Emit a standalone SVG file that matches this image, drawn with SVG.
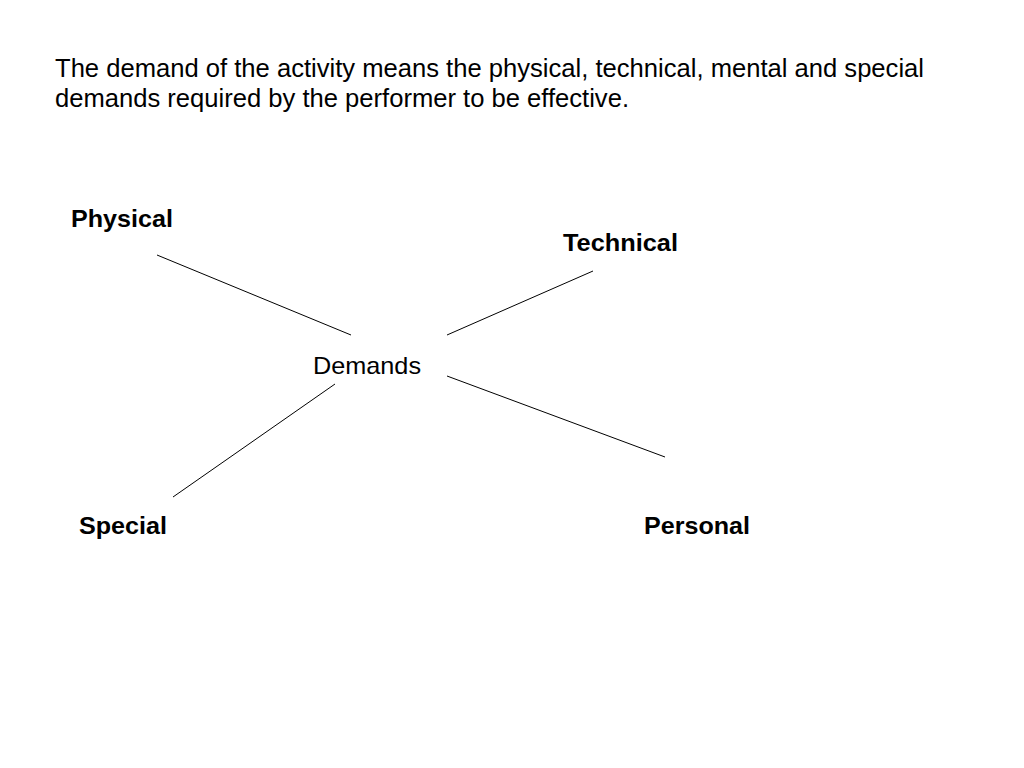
<svg xmlns="http://www.w3.org/2000/svg" width="1024" height="768" viewBox="0 0 1024 768">
<style>
text{font-family:"Liberation Sans",Arial,sans-serif;fill:#000}
.t{font-size:25px}
.b{font-size:24px;font-weight:bold}
.c{font-size:24px}
.conn line{stroke:#000;stroke-width:1}
</style>
<rect width="1024" height="768" fill="#fff"/>
<g id="title">
<text class="t" x="55" y="77" textLength="869" lengthAdjust="spacingAndGlyphs">The demand of the activity means the physical, technical, mental and special</text>
<text class="t" x="55" y="107" textLength="574" lengthAdjust="spacingAndGlyphs">demands required by the performer to be effective.</text>
</g>
<g class="conn" id="connectors">
<line x1="157" y1="255" x2="351" y2="335"/>
<line x1="447" y1="335" x2="593" y2="271"/>
<line x1="335" y1="384" x2="173" y2="497"/>
<line x1="447" y1="376" x2="665" y2="457"/>
</g>
<g id="physical"><text class="b" x="71" y="227" textLength="102" lengthAdjust="spacingAndGlyphs">Physical</text></g>
<g id="technical"><text class="b" x="563" y="251" textLength="115" lengthAdjust="spacingAndGlyphs">Technical</text></g>
<g id="demands"><text class="c" x="313" y="374" textLength="108" lengthAdjust="spacingAndGlyphs">Demands</text></g>
<g id="special"><text class="b" x="79" y="534" textLength="88" lengthAdjust="spacingAndGlyphs">Special</text></g>
<g id="personal"><text class="b" x="644" y="534" textLength="106" lengthAdjust="spacingAndGlyphs">Personal</text></g>
</svg>
